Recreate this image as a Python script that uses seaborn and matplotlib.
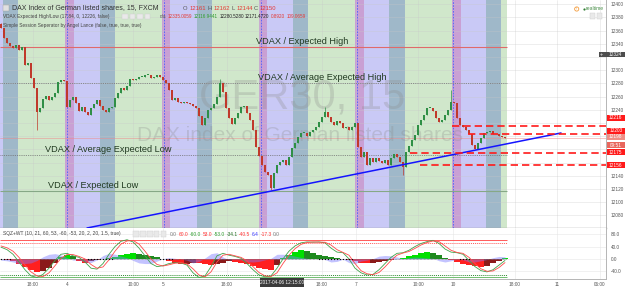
import numpy as np
import pandas as pd
import matplotlib
matplotlib.use("Agg")
import matplotlib.pyplot as plt
import seaborn as sns
from matplotlib.patches import Rectangle
from matplotlib.transforms import blended_transform_factory

# ---------------- data ----------------
first_open = 12370
closes = [
    12364, 12349, 12341, 12337, 12334, 12338, 12331, 12335, 12308, 12311,
    12288, 12273, 12237, 12243, 12257, 12261, 12255, 12260, 12266, 12282,
    12285, 12284, 12244, 12255, 12260, 12250, 12238, 12244, 12237, 12232,
    12243, 12249, 12255, 12246, 12240, 12237, 12243, 12244, 12258, 12266,
    12273, 12270, 12276, 12287, 12285, 12287, 12290, 12290, 12293, 12293,
    12288, 12290, 12293, 12290, 12285, 12281, 12270, 12255, 12258, 12252,
    12250, 12252, 12250, 12249, 12246, 12243, 12231, 12217, 12228, 12240,
    12243, 12249, 12260, 12281, 12267, 12243, 12228, 12219, 12228, 12235,
    12244, 12246, 12235, 12225, 12210, 12184, 12170, 12157, 12146, 12141,
    12122, 12144, 12157, 12161, 12164, 12157, 12169, 12182, 12190, 12199,
    12205, 12205, 12200, 12207, 12210, 12214, 12222, 12229, 12237, 12229,
    12222, 12217, 12223, 12220, 12213, 12214, 12210, 12214, 12220, 12184,
    12169, 12176, 12157, 12167, 12161, 12167, 12163, 12160, 12164, 12157,
    12167, 12173, 12169, 12161, 12154, 12176, 12185, 12194, 12202, 12217,
    12225, 12232, 12243, 12243, 12238, 12228, 12222, 12225, 12232, 12240,
    12252, 12250, 12228, 12217, 12214, 12210, 12204, 12187, 12181, 12190,
    12197, 12205, 12207, 12208, 12203, 12203, 12200, 12199, 12198,
]
wick_high = {0: 12372, 73: 12287, 108: 12245, 150: 12270}
wick_low = {12: 12209, 90: 12119, 134: 12141}

vdax_exp_high = 12335.0059
vdax_exp_low = 12116.9441
vdax_avg_high = 12280.5280
vdax_avg_low = 12171.4720

level_prices = [12216, 12203, 12175, 12156]
level_start_bar = [150.33, 155.67, 136.33, 139.67]

trend_bars = [28.67, 186.67]
trend_prices = [12061, 12205]

session_edges = [-0.34, 0.67, 5.67, 21.33, 24.33, 33.0, 38.0, 53.67, 56.33, 65.33,
                 70.33, 86.0, 88.67, 97.33, 102.33, 118.0, 121.0, 129.33, 134.67,
                 150.33, 153.33, 161.67, 166.67, 168.67]
session_kinds = ['lav', 'bg', 'gr'] + ['mag', 'lav', 'bg', 'gr'] * 5
day_starts = [22.0, 54.33, 86.67, 118.67, 150.67]

time_tick_bars = [10.67, 22.0, 44.0, 54.0, 75.33, 107.0, 118.33, 139.0, 150.67, 171.33, 185.33, 199.67]
time_tick_labels = ["18:00", "4", "10:00", "5", "18:00", "18:00", "7", "10:00", "10", "18:00", "11", "06:00"]
cursor_bar = 93.67
cursor_label = "2017-04-06 12:15:00"

price_ticks = list(range(12080, 12401, 20))
price_tick_shown = [12400, 12380, 12360, 12340, 12300, 12280, 12260, 12240, 12140, 12120, 12100, 12080]

# right-side price tags: (label position, text, face colour)
tag_pos = [12324, 12228.2, 12208, 12199, 12186.4, 12175.6, 12156]
tag_text = ["12324", "12216", "12203", "12198", "09:51", "12175", "12156"]
tag_color = ["#4d4d4d", "#ff1a1a", "#ff1a1a", "#ef8f86", "#e8675d", "#ff1a1a", "#ff1a1a"]
last_price = 12198

# oscillator (every second bar)
osc_bars = list(range(0, 169, 2))
hist = [0, -3, -8, -15, -25, -35, -42, -38, -28, -12,
        5, 14, 8, -8, -12, -6, -2, 0, 2, 6,
        12, 17, 19, 17, 14, 10, 6, 0, -8, -14,
        -17, -15, -12, -14, -18, -20, -16, -12, -8, -10,
        -14, -18, -24, -30, -34, -36, -20, 2, 12, 22,
        28, 24, 18, 14, 10, 6, 3, 0, -4, -8,
        -12, -14, -12, -10, -7, -4, -1, 3, 8, 14,
        20, 23, 20, 12, 2, -4, -10, -16, -20, -24,
        -26, -22, -14, -6, 3]
wt1 = [38, 30, 15, -10, -35, -55, -60, -50, -30, -5,
       15, 18, 10, 5, -10, -30, -33, -15, 15, 40,
       57, 62, 55, 35, 10, -15, -25, -22, -15, -12,
       -13, -20, -45, -60, -55, -25, 10, 18, 12, 8,
       2, -15, -35, -52, -58, -55, -30, 0, 25, 42,
       52, 55, 54, 55, 52, 35, 22, 20, 0, -30,
       -45, -52, -50, -35, -15, 5, 18, 20, 28, 40,
       50, 56, 60, 50, 32, 22, 20, 15, -5, -25,
       -38, -42, -35, -20, -5]
wt2 = [42, 36, 25, 5, -20, -42, -55, -57, -45, -22,
       2, 14, 14, 8, 0, -18, -30, -26, -3, 25,
       48, 58, 60, 48, 25, 0, -18, -23, -19, -14,
       -12, -16, -32, -52, -58, -42, -10, 12, 15, 10,
       5, -6, -25, -44, -55, -57, -45, -15, 12, 33,
       47, 53, 55, 54, 54, 45, 30, 21, 12, -15,
       -38, -48, -51, -44, -26, -5, 12, 19, 24, 34,
       45, 53, 58, 56, 42, 28, 21, 18, 5, -15,
       -32, -40, -39, -28, -12]
squeeze_ranges = [(0, 3), (29, 37), (53, 57), (106, 117), (153, 156)]
osc_ticks = [80, 40, 0, -40]
osc_tick_labels = ["80.0", "40.0", "0.0", "-40.0"]

# ---------------- figure ----------------
sns.set_theme(style="white")
plt.rcParams['font.family'] = ['Liberation Sans', 'DejaVu Sans']

W, H = 625, 289
fig = plt.figure(figsize=(W / 100, H / 100), dpi=100)
fig.patch.set_facecolor('white')
ax = fig.add_axes([0, 1 - 228 / H, 606 / W, 228 / H])
ax2 = fig.add_axes([0, 1 - 279 / H, 606 / W, 51 / H])
XMIN, XMAX = -1 / 3, 606 / 3 - 1 / 3
DATA_END = session_edges[-1]

band_colors = {'lav': '#c9c9f6', 'bg': '#9fb8c9', 'gr': '#d0e7cb', 'mag': '#c9a0d4'}
for a, b, k in zip(session_edges[:-1], session_edges[1:], session_kinds):
    ax.axvspan(a, b, color=band_colors[k], lw=0, zorder=0)

grid_bars = time_tick_bars + [86.0]
for p in price_ticks:
    ax.axhline(p, color='#c8c8c8', lw=0.4, alpha=0.55, zorder=0.5)
for b in grid_bars:
    ax.axvline(b, color='#c8c8c8', lw=0.4, alpha=0.55, zorder=0.5)
    ax2.axvline(b, color='#e6e6e6', lw=0.4, zorder=0.5)
for v in osc_ticks:
    ax2.axhline(v, color='#e6e6e6', lw=0.4, zorder=0.5)

for d in day_starts:
    ax.axvline(d, color='#4a5cff', lw=0.6, ls=(0, (2, 1.5)), zorder=1)

# VDAX levels
ax.hlines(vdax_exp_high, XMIN, DATA_END, color='#e06a6a', lw=0.8, zorder=1)
ax.hlines(vdax_avg_high, XMIN, DATA_END, color='#707070', lw=0.6, ls=(0, (1, 1.2)), zorder=1)
ax.hlines(vdax_avg_low, XMIN, DATA_END, color='#707070', lw=0.6, ls=(0, (1, 1.2)), zorder=1)
ax.hlines(vdax_exp_low, XMIN, DATA_END, color='#86a886', lw=0.8, zorder=1)
ax.axhline(last_price, color='#f08a8a', lw=0.5, alpha=0.7, zorder=1)

lab_kw = dict(fontsize=6.6, color='#213a21', va='bottom', ha='left', zorder=4)
ax.text(85.0, vdax_exp_high + 2, "VDAX / Expected High", **lab_kw)
ax.text(85.67, vdax_avg_high + 2, "VDAX / Average Expected High", **lab_kw)
ax.text(14.67, vdax_avg_low + 2, "VDAX / Average Expected Low", **lab_kw)
ax.text(15.67, vdax_exp_low + 2, "VDAX / Expected Low", **lab_kw)

# watermark
ax.text(0.498, 0.572, "GER30, 15", transform=ax.transAxes, fontsize=30,
        color='#8a8a8a', alpha=0.28, ha='center', va='center', zorder=1.2)
ax.text(0.495, 0.405, "DAX index of German listed shares", transform=ax.transAxes,
        fontsize=15, color='#8a8a8a', alpha=0.28, ha='center', va='center', zorder=1.2)

# candles
n = len(closes)
idx = np.arange(n)
cl = np.array(closes, dtype=float)
op = np.array([first_open] + closes[:-1], dtype=float)
hi = np.maximum(op, cl)
lo = np.minimum(op, cl)
for k, v in wick_high.items():
    hi[k] = v
for k, v in wick_low.items():
    lo[k] = v
up = cl >= op
ccol = np.where(up, '#2f8f46', '#c0392b')
ax.vlines(idx, lo, hi, colors=ccol, lw=0.5, zorder=2)
body_h = np.maximum(np.abs(cl - op), 0.8)
ax.bar(idx, body_h, bottom=np.minimum(op, cl), width=0.62, color=ccol, lw=0, zorder=2.1)

# trend line and levels
sns.lineplot(x=trend_bars, y=trend_prices, ax=ax, color='#1414ff', lw=1.1, zorder=3)
for p, s in zip(level_prices, level_start_bar):
    ax.hlines(p, s, XMAX, color='#ff1a1a', lw=1.2, linestyles=[(0, (4.4, 2.4))], zorder=3)

ax.set_xlim(XMIN, XMAX)
ax.set_ylim(12061, 12406.5)
ax.set_xticks([])
ax.yaxis.tick_right()
ax.set_yticks(price_ticks)
ax.set_yticklabels([str(p) if p in price_tick_shown else '' for p in price_ticks])
ax.tick_params(axis='y', length=0, pad=3.2, labelsize=3.4, labelcolor='#555555')
ax.set_xlabel(''); ax.set_ylabel('')
for s in ['top', 'left']:
    ax.spines[s].set_visible(False)
ax.spines['right'].set_color('#b5b5b5'); ax.spines['right'].set_linewidth(0.7)
ax.spines['bottom'].set_color('#a0a0a0'); ax.spines['bottom'].set_linewidth(1.0)

# price tags
bt = blended_transform_factory(ax.transAxes, ax.transData)
tag_h = 8.8
for pos, txt, fc in zip(tag_pos, tag_text, tag_color):
    x0 = 1.0015 if txt != "12324" else 599 / 606
    ax.add_patch(Rectangle((x0, pos - tag_h / 2), 1.0314 - x0, tag_h, transform=bt,
                           fc=fc, ec='none', clip_on=False, zorder=5))
    ax.text(1.016, pos, txt, transform=bt, fontsize=3.4, color='white', ha='center',
            va='center', clip_on=False, zorder=6)
ax.text(601.5 / 606, 12324, "+", transform=bt, fontsize=4, color='white', ha='center',
        va='center', clip_on=False, zorder=6)

# ---------------- oscillator ----------------
osc = pd.DataFrame({'bar': osc_bars, 'hist': hist, 'wt1': wt1, 'wt2': wt2})
hcol = []
for i, v in enumerate(hist):
    prev = hist[i - 1] if i > 0 else 0
    if v >= 0:
        hcol.append('#00e000' if v >= prev else '#1f8a1f')
    else:
        hcol.append('#ff1f1f' if v <= prev else '#8b1a1a')
ax2.bar(osc['bar'], osc['hist'], width=1.85, color=hcol, lw=0, zorder=2)
ax2.fill_between(osc['bar'], 0, osc['wt1'] - osc['wt2'], color='#7b7bff', alpha=0.45, lw=0, zorder=2.2)
sns.lineplot(data=osc, x='bar', y='wt1', ax=ax2, color='#3fa34a', lw=0.6, zorder=3)
sns.lineplot(data=osc, x='bar', y='wt2', ax=ax2, color='#ff4a4a', lw=0.6, zorder=3)
ax2.hlines(60, XMIN, DATA_END, color='#ff5a5a', lw=0.7, zorder=1.5)
ax2.hlines(53, XMIN, DATA_END, color='#ff5a5a', lw=0.7, linestyles=[(0, (1, 1))], zorder=1.5)
ax2.hlines(-53, XMIN, DATA_END, color='#2e8b2e', lw=0.7, linestyles=[(0, (1, 1))], zorder=1.5)
ax2.hlines(-60, XMIN, DATA_END, color='#6fbf6f', lw=0.7, zorder=1.5)
ax2.hlines(0, XMIN, DATA_END, color='#777777', lw=0.5, linestyles=[(0, (1, 1))], zorder=2.5)
for a, b in squeeze_ranges:
    xs = np.arange(a, b + 1)
    ax2.scatter(xs, np.zeros_like(xs), s=0.8, c='black', lw=0, zorder=3.5)

ax2.set_xlim(XMIN, XMAX)
ax2.set_ylim(-65, 100)
ax2.yaxis.tick_right()
ax2.set_yticks(osc_ticks)
ax2.set_yticklabels(osc_tick_labels)
ax2.set_xticks(time_tick_bars)
ax2.set_xticklabels(time_tick_labels)
ax2.tick_params(axis='y', length=0, pad=3.2, labelsize=3.4, labelcolor='#555555')
ax2.tick_params(axis='x', length=0, pad=1.8, labelsize=3.4, labelcolor='#555555')
ax2.set_xlabel(''); ax2.set_ylabel('')
for s in ['top', 'left']:
    ax2.spines[s].set_visible(False)
for s in ['right', 'bottom']:
    ax2.spines[s].set_color('#b5b5b5'); ax2.spines[s].set_linewidth(0.7)

# ---------------- header texts ----------------
renderer = fig.canvas.get_renderer()


def ftext(px, py, s, **kw):
    kw.setdefault('va', 'center')
    kw.setdefault('ha', 'left')
    return fig.text(px / W, 1 - py / H, s, **kw)


def seq_text(x0, py, parts, size, gap):
    x = x0
    for s, c in parts:
        t = ftext(x, py, s, fontsize=size, color=c)
        x += t.get_window_extent(renderer=renderer).width + gap


def squares(x0, py, count, size=5.5, step=7.5):
    for i in range(count):
        fig.add_artist(Rectangle(((x0 + i * step) / W, 1 - (py + size / 2) / H), size / W, size / H,
                                 transform=fig.transFigure, fc='#e9e9e9', ec='#cdcdcd', lw=0.3))


fig.add_artist(Rectangle((3 / W, 1 - 11 / H), 6 / W, 6 / H, transform=fig.transFigure,
                         fc='#e0e0e0', ec='#a0a0a0', lw=0.3))
ftext(12, 8, "DAX Index of German listed shares, 15, FXCM", fontsize=5.0, color='#333333')
seq_text(183, 8, [("O", '#555'), ("12161", '#e53935'), ("H", '#555'), ("12162", '#e53935'),
                  ("L", '#555'), ("12144", '#e53935'), ("C", '#555'), ("12150", '#e53935')], 4.2, 1.6)
ftext(3, 16.5, "VDAX Expected High/Low (17.84, 0, 12226, false)", fontsize=3.4, color='#444444')
squares(122, 16.5, 4)
seq_text(160, 16.5, [("n/a", '#555'), ("12335.0059", '#e53935'), ("12116.9441", '#2e9d2e'),
                     ("12280.5280", '#222'), ("12171.4720", '#222'), ("0.8920", '#e53935'),
                     ("109.0659", '#e53935')], 3.3, 1.4)
ftext(3, 25, "Simple Session Seperator by Angel Lance (false, true, true, true)", fontsize=3.4, color='#444444')

ftext(3, 234, "SQZ+WT (10, 21, 60, 53, -60, -53, 20, 2, 20, 1.5, true)", fontsize=3.5, color='#444444')
squares(133, 234, 5, size=5.5, step=7)
seq_text(170, 234, [("0.0", '#777'), ("60.0", '#ff3030'), ("-60.0", '#2e9d2e'), ("53.0", '#ff3030'),
                    ("-53.0", '#2e9d2e'), ("-34.1", '#1f6e1f'), ("-40.5", '#ff3030'),
                    ("6.4", '#3a3aff'), ("-17.3", '#ff3030'), ("0.0", '#777')], 3.5, 1.6)

# realtime indicator
ax.scatter([576.7 / 606], [1 - 9 / 228], transform=ax.transAxes, s=9, facecolors='none',
           edgecolors='#f39c3c', lw=0.6, clip_on=False, zorder=6)
ax.text(576.7 / 606, 1 - 9 / 228, "!", transform=ax.transAxes, fontsize=3.2, color='#f39c3c',
        ha='center', va='center', zorder=6)
ax.scatter([583.5 / 606], [1 - 9 / 228], transform=ax.transAxes, s=2.5, c='#2e7d32', lw=0,
           clip_on=False, zorder=6)
ftext(586, 9, "realtime", fontsize=3.6, color='#4a8f4a')
squares(590, 16, 2, size=5, step=6.5)

# cursor time box
fig.add_artist(Rectangle((260 / W, 1 - 287 / H), 44 / W, 9 / H, transform=fig.transFigure,
                         fc='#3b3b3b', ec='none'))
ftext(282, 282.5, cursor_label, fontsize=3.4, color='white', ha='center')

fig.savefig("out.png", dpi=100)
